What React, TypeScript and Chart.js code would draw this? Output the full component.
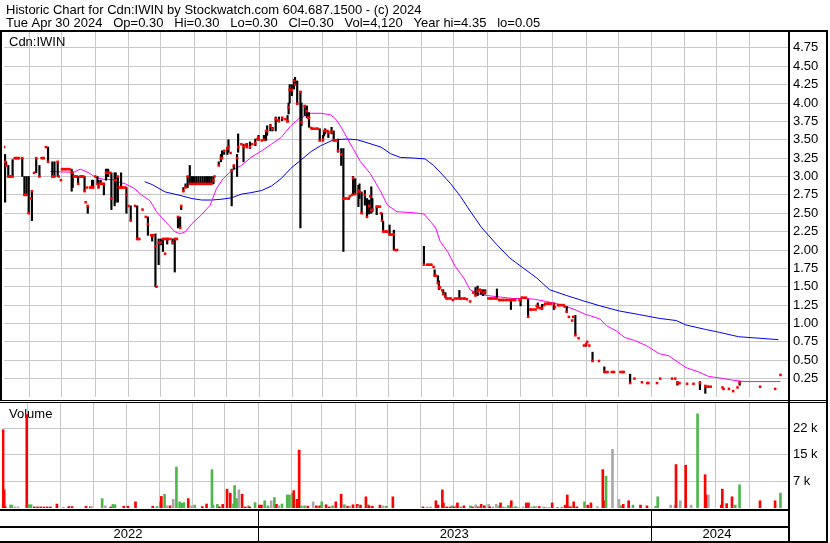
import React, { useEffect, useRef } from 'react';
import { Chart, registerables } from 'chart.js';

Chart.register(...registerables);

const FONT = '"Liberation Sans", Arial, sans-serif';

// ---- texts ----
const headerLine1 = 'Historic Chart for Cdn:IWIN by Stockwatch.com 604.687.1500 - (c) 2024';
const headerLine2 = 'Tue Apr 30 2024   Op=0.30   Hi=0.30   Lo=0.30   Cl=0.30   Vol=4,120   Year hi=4.35   lo=0.05';
const symbolLabel = 'Cdn:IWIN';
const volumeLabel = 'Volume';

// ---- axis data (x = calendar days counted from 2022-01-01) ----
const xMin = 127;
const xMax = 857;
const monthStarts = [151, 181, 212, 243, 273, 304, 334, 365, 396, 424, 455, 485, 516, 546, 577, 608, 638, 669, 699, 730, 761, 790, 821];
const yearStarts = [365, 730];
const yearLabels = ['2022', '2023', '2024'];
const yearLabelPos = [244, 547, 791];
const priceTicks = [0.25, 0.5, 0.75, 1, 1.25, 1.5, 1.75, 2, 2.25, 2.5, 2.75, 3, 3.25, 3.5, 3.75, 4, 4.25, 4.5, 4.75];
const volumeTicks = [7333.33, 14666.67, 22000];

// ---- daily closes ----
const closeDays = [
  127, 128, 129, 131, 132, 133, 134, 135, 137, 138, 139, 140, 141, 144, 146, 147, 148, 150, 152, 153,
  155, 157, 160, 162, 163, 164, 166, 168, 172, 173, 174, 177, 178, 180, 181, 182, 184, 185, 187, 188,
  190, 191, 192, 193, 194, 195, 196, 198, 199, 200, 201, 202, 203, 204, 205, 207, 208, 209, 210, 212,
  214, 215, 217, 218, 219, 220, 222, 223, 224, 226, 227, 230, 231, 233, 234, 235, 236, 237, 238, 240,
  241, 243, 245, 249, 251, 252, 253, 256, 259, 261, 264, 265, 266, 268, 269, 271, 273, 275, 276, 277,
  278, 279, 280, 282, 284, 286, 287, 288, 289, 291, 292, 294, 296, 298, 300, 302, 304, 306, 308, 310,
  312, 314, 316, 318, 320, 322, 323, 327, 329, 330, 332, 335, 336, 338, 339, 341, 344, 345, 348, 350,
  352, 353, 356, 358, 361, 363, 364, 367, 369, 371, 372, 375, 377, 380, 382, 383, 386, 389, 391, 392,
  393, 395, 397, 398, 400, 403, 404, 407, 409, 410, 411, 413, 414, 416, 418, 419, 421, 424, 425, 426,
  428, 429, 432, 434, 435, 437, 438, 441, 443, 444, 445, 447, 448, 449, 451, 452, 454, 457, 458, 460,
  463, 465, 467, 468, 469, 470, 474, 475, 477, 478, 479, 480, 482, 483, 484, 486, 487, 489, 490, 491,
  493, 518, 521, 522, 524, 525, 527, 528, 529, 531, 532, 533, 535, 536, 538, 539, 540, 542, 543, 545,
  547, 549, 551, 552, 553, 555, 556, 558, 561, 564, 566, 568, 570, 571, 573, 575, 578, 580, 581, 583,
  585, 586, 588, 589, 591, 592, 594, 595, 597, 599, 600, 602, 603, 607, 608, 609, 610, 612, 613, 615,
  617, 618, 620, 622, 623, 624, 626, 627, 628, 630, 631, 633, 634, 636, 639, 640, 643, 644, 646, 648,
  649, 651, 653, 656, 657, 659, 662, 667, 669, 670, 672, 675, 681, 686, 687, 689, 693, 695, 701, 703,
  704, 710, 714, 721, 726, 727, 735, 738, 749, 752, 754, 755, 756, 763, 769, 775, 780, 782, 783, 785,
  796, 797, 802, 806, 810, 812, 831, 845, 850,
];
const closes = [
  3.40, 3.20, 3.15, 3.00, 3.00, 3.00, 3.00, 3.00, 3.25, 3.25, 3.25, 3.25, 3.25, 3.25, 2.75, 2.75, 2.75, 2.50, 2.70, 2.80,
  3.05, 3.25, 3.00, 3.25, 3.25, 3.25, 3.40, 3.20, 3.00, 3.00, 3.00, 3.20, 3.00, 2.95, 3.10, 3.10, 3.10, 3.10, 3.10, 3.10,
  3.05, 3.05, 3.00, 3.00, 3.00, 3.00, 2.90, 3.00, 3.00, 3.00, 3.00, 2.80, 2.65, 2.85, 2.60, 2.85, 2.85, 2.85, 2.85, 3.00,
  2.90, 2.85, 2.90, 2.90, 2.90, 2.90, 3.05, 3.05, 3.05, 3.05, 2.70, 2.95, 2.95, 3.00, 2.85, 2.85, 2.85, 2.85, 2.85, 2.85,
  2.75, 2.60, 2.40, 2.60, 2.15, 2.15, 2.15, 2.55, 2.45, 2.35, 2.20, 2.20, 2.20, 2.05, 1.50, 2.10, 2.10, 2.15, 2.15, 1.95,
  2.15, 2.15, 2.15, 2.15, 2.10, 2.15, 2.15, 2.15, 2.45, 2.30, 2.60, 2.80, 2.85, 3.00, 2.90, 2.90, 2.90, 2.90, 2.90, 2.90,
  2.90, 2.90, 2.90, 2.90, 2.90, 2.95, 3.00, 3.15, 3.25, 3.25, 3.35, 3.38, 3.40, 3.32, 3.08, 3.15, 3.25, 3.40, 3.44, 3.40,
  3.43, 3.40, 3.40, 3.44, 3.45, 3.51, 3.53, 3.49, 3.50, 3.62, 3.62, 3.69, 3.65, 3.78, 3.76, 3.76, 3.80, 3.78, 3.75, 3.94,
  4.18, 4.18, 4.30, 4.25, 3.99, 4.15, 3.74, 3.96, 3.89, 3.80, 3.80, 3.66, 3.65, 3.65, 3.65, 3.65, 3.49, 3.50, 3.62, 3.62,
  3.62, 3.60, 3.61, 3.49, 3.49, 3.49, 3.35, 3.30, 2.70, 2.70, 2.70, 2.70, 2.70, 2.73, 2.75, 2.98, 2.76, 2.81, 2.79, 2.50,
  2.75, 2.45, 2.60, 2.73, 2.54, 2.55, 2.59, 2.59, 2.59, 2.50, 2.40, 2.25, 2.25, 2.25, 2.25, 2.21, 2.21, 2.21, 2.21, 2.00,
  2.00, 1.80, 1.80, 1.80, 1.80, 1.80, 1.77, 1.65, 1.65, 1.55, 1.49, 1.49, 1.45, 1.40, 1.37, 1.34, 1.34, 1.34, 1.34, 1.32,
  1.34, 1.34, 1.34, 1.34, 1.34, 1.34, 1.34, 1.33, 1.30, 1.42, 1.38, 1.44, 1.46, 1.44, 1.42, 1.43, 1.34, 1.34, 1.34, 1.34,
  1.34, 1.34, 1.32, 1.32, 1.32, 1.32, 1.32, 1.32, 1.32, 1.32, 1.32, 1.32, 1.32, 1.32, 1.32, 1.35, 1.35, 1.35, 1.35, 1.09,
  1.19, 1.19, 1.19, 1.19, 1.24, 1.22, 1.21, 1.21, 1.21, 1.25, 1.27, 1.27, 1.27, 1.27, 1.27, 1.22, 1.25, 1.25, 1.25, 1.25,
  1.23, 1.16, 1.09, 1.04, 1.09, 0.84, 0.80, 0.70, 0.72, 0.75, 0.70, 0.49, 0.49, 0.34, 0.34, 0.34, 0.34, 0.34, 0.34, 0.34,
  0.34, 0.19, 0.25, 0.20, 0.19, 0.19, 0.19, 0.25, 0.25, 0.25, 0.19, 0.19, 0.19, 0.18, 0.18, 0.19, 0.15, 0.14, 0.14, 0.14,
  0.13, 0.11, 0.11, 0.08, 0.13, 0.19, 0.14, 0.11, 0.30,
];

// ---- daily high-low ranges ----
const rangeDays = [
  128, 129, 131, 135, 144, 146, 148, 150, 153, 157, 160, 168, 172, 174, 177, 190, 191, 196, 202, 205,
  209, 210, 214, 215, 217, 220, 222, 223, 224, 227, 230, 231, 233, 236, 241, 245, 251, 261, 265, 268,
  271, 273, 275, 279, 284, 286, 289, 291, 292, 294, 296, 298, 300, 302, 304, 306, 308, 310, 312, 314,
  316, 318, 320, 322, 327, 329, 330, 332, 335, 336, 339, 341, 344, 345, 350, 353, 356, 361, 364, 369,
  371, 372, 375, 377, 380, 383, 386, 391, 392, 393, 395, 397, 398, 400, 403, 404, 407, 409, 411, 421,
  424, 425, 426, 429, 432, 434, 438, 441, 443, 452, 454, 457, 458, 460, 463, 465, 467, 469, 470, 474,
  479, 480, 486, 490, 518, 528, 531, 532, 536, 538, 551, 566, 568, 571, 573, 575, 586, 599, 608, 615,
  624, 628, 639, 651, 659, 669, 675, 686, 710, 754, 775, 780, 812,
];
const highs = [
  3.30, 3.20, 3.15, 3.23, 3.25, 3.00, 3.00, 3.00, 2.80, 3.25, 3.15, 3.40, 3.20, 3.20, 3.20, 3.10, 3.05, 3.00, 3.00, 2.60,
  2.95, 2.95, 3.00, 2.95, 2.95, 2.90, 3.10, 3.10, 3.10, 3.05, 3.05, 3.05, 3.00, 3.05, 2.85, 2.60, 2.60, 2.45, 2.20, 2.22,
  2.15, 2.15, 2.15, 2.15, 2.15, 2.15, 2.45, 2.45, 2.60, 2.85, 2.90, 3.00, 3.15, 3.00, 3.00, 3.00, 3.00, 3.00, 3.00, 3.00,
  3.00, 3.00, 3.00, 3.00, 3.20, 3.30, 3.35, 3.35, 3.40, 3.50, 3.10, 3.15, 3.30, 3.58, 3.44, 3.45, 3.47, 3.51, 3.56, 3.56,
  3.62, 3.69, 3.71, 3.67, 3.81, 3.81, 3.80, 3.83, 4.00, 4.25, 4.25, 4.32, 4.35, 4.30, 4.16, 4.00, 3.96, 3.96, 3.87, 3.65,
  3.56, 3.62, 3.65, 3.62, 3.67, 3.62, 3.51, 3.38, 3.38, 3.00, 2.97, 2.88, 2.90, 2.79, 2.81, 2.70, 2.68, 2.86, 2.70, 2.59,
  2.50, 2.39, 2.34, 2.27, 2.05, 1.73, 1.65, 1.58, 1.46, 1.42, 1.45, 1.49, 1.51, 1.46, 1.46, 1.46, 1.47, 1.32, 1.32, 1.33,
  1.28, 1.26, 1.27, 1.23, 1.11, 0.72, 0.61, 0.41, 0.31, 0.21, 0.21, 0.16, 0.21,
];
const lows = [
  2.65, 3.15, 3.00, 3.00, 3.00, 2.75, 2.75, 2.50, 2.40, 3.05, 3.00, 3.20, 3.00, 3.00, 3.00, 2.80, 2.85, 2.90, 2.80, 2.50,
  2.85, 2.85, 2.90, 2.85, 2.90, 2.75, 2.95, 3.00, 3.00, 2.55, 2.60, 2.65, 2.65, 2.85, 2.50, 2.40, 2.15, 2.20, 2.12, 1.50,
  1.80, 2.07, 1.98, 2.08, 2.08, 1.70, 2.30, 2.30, 2.55, 2.80, 2.85, 2.85, 2.90, 2.90, 2.90, 2.90, 2.90, 2.90, 2.90, 2.90,
  2.90, 2.90, 2.90, 2.90, 3.15, 3.20, 3.25, 3.30, 3.30, 3.33, 2.60, 3.10, 3.00, 3.33, 3.20, 3.40, 3.38, 3.42, 3.49, 3.49,
  3.49, 3.56, 3.62, 3.62, 3.62, 3.74, 3.76, 3.74, 3.85, 4.00, 4.10, 4.19, 4.25, 3.98, 2.30, 3.69, 3.83, 3.80, 3.67, 3.49,
  3.48, 3.55, 3.58, 3.53, 3.58, 3.49, 3.33, 3.15, 1.98, 2.75, 2.76, 2.59, 2.70, 2.50, 2.61, 2.44, 2.49, 2.50, 2.52, 2.48,
  2.39, 2.25, 2.21, 2.00, 1.80, 1.65, 1.54, 1.46, 1.40, 1.35, 1.34, 1.38, 1.38, 1.40, 1.38, 1.40, 1.34, 1.19, 1.24, 1.09,
  1.21, 1.19, 1.19, 1.15, 0.84, 0.69, 0.49, 0.34, 0.19, 0.16, 0.10, 0.05, 0.16,
];

// ---- moving averages ----
const maShortDays = [
  170, 183, 192, 198, 206, 212, 220, 228, 232, 240, 248, 255, 263, 269, 277, 286, 291, 296, 302, 311,
  319, 325, 331, 339, 348, 357, 367, 376, 385, 394, 401, 404, 410, 413, 422, 431, 436, 441, 447, 452,
  459, 468, 478, 484, 493, 506, 518, 524, 529, 533, 540, 547, 555, 561, 569, 577, 589, 601, 614, 621,
  632, 644, 651, 660, 669, 672, 682, 688, 697, 705, 714, 725, 737, 746, 754, 762, 774, 783, 793, 805,
  817, 830, 850,
];
const maShort = [
  3.07, 3.06, 3.06, 3.10, 3.05, 2.99, 2.96, 2.96, 2.93, 2.90, 2.84, 2.75, 2.67, 2.52, 2.39, 2.25, 2.22, 2.25, 2.36, 2.48,
  2.61, 2.84, 2.97, 3.08, 3.15, 3.26, 3.35, 3.44, 3.53, 3.69, 3.78, 3.80, 3.85, 3.86, 3.86, 3.84, 3.78, 3.67, 3.51, 3.38,
  3.20, 3.04, 2.79, 2.61, 2.52, 2.51, 2.49, 2.39, 2.30, 2.12, 1.98, 1.78, 1.62, 1.46, 1.40, 1.38, 1.36, 1.34, 1.34, 1.33,
  1.30, 1.26, 1.23, 1.18, 1.12, 1.11, 1.06, 0.97, 0.90, 0.81, 0.77, 0.70, 0.59, 0.56, 0.48, 0.40, 0.34, 0.28, 0.26, 0.23,
  0.21, 0.21, 0.21,
];
const maLongDays = [
  258, 265, 277, 289, 302, 311, 320, 329, 339, 348, 357, 367, 376, 385, 394, 404, 413, 422, 434, 447,
  456, 465, 478, 487, 496, 509, 519, 527, 533, 543, 552, 561, 572, 586, 598, 610, 623, 635, 651, 666,
  682, 700, 719, 737, 753, 762, 780, 793, 811, 830, 848,
];
const maLong = [
  2.93, 2.89, 2.79, 2.75, 2.70, 2.68, 2.68, 2.69, 2.71, 2.76, 2.78, 2.81, 2.87, 2.97, 3.11, 3.23, 3.34, 3.42, 3.50, 3.51,
  3.50, 3.46, 3.40, 3.31, 3.26, 3.25, 3.24, 3.15, 3.06, 2.90, 2.73, 2.53, 2.30, 2.07, 1.89, 1.76, 1.62, 1.46, 1.38, 1.31,
  1.24, 1.17, 1.12, 1.07, 1.04, 0.98, 0.92, 0.88, 0.82, 0.80, 0.78,
];

// ---- volume (direction: 1 up, -1 down, 0 unchanged) ----
const volDays = [
  128, 129, 130, 135, 136, 139, 142, 150, 152, 154, 157, 160, 163, 166, 169, 172, 178, 184, 189, 192,
  205, 209, 210, 220, 223, 228, 230, 232, 240, 244, 251, 267, 271, 274, 275, 278, 280, 283, 286, 289,
  292, 294, 296, 300, 303, 306, 313, 317, 322, 323, 327, 329, 332, 336, 339, 342, 343, 345, 347, 350,
  353, 356, 357, 362, 366, 368, 371, 374, 377, 380, 382, 384, 387, 392, 394, 397, 398, 401, 403, 405,
  408, 411, 416, 419, 422, 424, 428, 431, 434, 437, 442, 445, 448, 450, 453, 457, 458, 460, 465, 467,
  468, 471, 478, 481, 484, 490, 518, 522, 525, 530, 532, 536, 537, 540, 543, 545, 547, 549, 550, 553,
  556, 562, 564, 567, 569, 570, 572, 574, 575, 579, 580, 583, 586, 588, 590, 592, 594, 597, 598, 600,
  601, 604, 607, 611, 614, 616, 618, 621, 623, 626, 630, 632, 635, 638, 643, 647, 650, 652, 654, 655,
  658, 661, 668, 671, 674, 680, 685, 686, 688, 694, 700, 702, 704, 709, 713, 720, 726, 734, 736, 748,
  752, 753, 757, 762, 767, 773, 780, 781, 783, 795, 796, 800, 805, 808, 812, 831, 845, 850,
];
const volumes = [
  21600, 5000, 400, 800, 800, 300, 300, 25800, 900, 900, 300, 300, 300, 300, 300, 300, 1100, 200, 400, 400,
  500, 300, 400, 2600, 600, 300, 1000, 900, 500, 500, 1700, 500, 400, 1700, 3200, 3800, 600, 600, 2400, 11300,
  1700, 1300, 1500, 2600, 600, 800, 400, 1100, 10600, 800, 1000, 300, 1000, 5200, 4100, 1100, 6200, 2600, 5000, 3800,
  300, 600, 300, 1500, 800, 800, 2000, 600, 2000, 2900, 1000, 600, 1100, 3600, 3600, 4100, 4800, 2400, 16000, 600,
  600, 500, 1700, 600, 600, 1700, 900, 300, 600, 1700, 3800, 900, 500, 500, 900, 1000, 500, 800, 3100, 900,
  600, 500, 800, 600, 500, 3100, 300, 300, 300, 2000, 800, 5000, 1400, 300, 300, 600, 300, 600, 1400, 300,
  600, 600, 300, 900, 300, 300, 1000, 600, 600, 1000, 300, 300, 1000, 600, 1400, 300, 200, 600, 600, 2000,
  300, 400, 200, 300, 1400, 1400, 300, 400, 400, 400, 300, 100, 100, 1400, 100, 200, 800, 3600, 300, 300,
  1700, 300, 1700, 800, 1400, 400, 10600, 2000, 8800, 16200, 2400, 600, 1000, 2000, 800, 800, 600, 400, 3100, 800,
  800, 12000, 2000, 11800, 800, 26000, 9200, 3600, 3600, 800, 5200, 1200, 3100, 800, 6400, 2000, 2000, 4120,
];
const volDir = [
  -1, -1, -1, 1, 1, 0, 0, -1, 1, 1, -1, -1, -1, -1, -1, -1, -1, 0, -1, -1,
  -1, -1, 0, 1, 0, -1, 1, 1, -1, -1, -1, -1, 1, 1, -1, 1, 0, -1, 0, 1,
  1, 1, 1, -1, 0, 1, -1, -1, 1, 1, 1, -1, -1, -1, -1, 1, 1, 1, 0, -1,
  -1, 1, -1, 1, -1, -1, 1, 1, 0, 1, -1, 0, 1, 1, 1, 1, -1, -1, -1, 1,
  1, -1, 0, -1, -1, 1, -1, -1, 1, -1, -1, 1, -1, 0, -1, -1, 0, -1, -1, 1,
  -1, -1, -1, 0, 1, -1, -1, 0, 0, -1, -1, -1, -1, -1, -1, 1, -1, 1, -1, 1,
  -1, 1, -1, 0, -1, 1, -1, 0, -1, 0, -1, 0, 0, 0, -1, 1, 0, 1, 1, -1,
  1, 1, 0, 0, -1, -1, 0, 1, 0, -1, 0, 1, 1, -1, -1, 1, -1, -1, -1, -1,
  -1, -1, 1, -1, -1, 0, -1, -1, 1, 0, 0, 1, -1, -1, 1, -1, -1, 1, 1, 0,
  0, -1, 0, -1, 0, 1, -1, -1, 0, -1, -1, -1, -1, 1, 1, -1, -1, 1,
];

const GRID = '#c8c8c8';
const UP = '#4cb84c';
const DOWN = '#ff0000';
const FLAT = '#a8a8a8';

const framePriceP = {
  id: 'framePrice',
  beforeDatasetsDraw(chart: any) {
    const ctx = chart.ctx;
    ctx.save();
    ctx.fillStyle = '#000';
    ctx.font = '13px ' + FONT;
    ctx.textBaseline = 'alphabetic';
    ctx.fillText(symbolLabel, 9, 46);
    ctx.restore();
  },
  afterDraw(chart: any) {
    const ctx = chart.ctx;
    ctx.save();
    ctx.fillStyle = '#000';
    ctx.fillRect(0, 30, 828, 2);
    ctx.fillRect(0, 30, 2, 371);
    ctx.fillRect(788, 30, 2, 371);
    ctx.fillRect(826, 30, 2, 371);
    ctx.fillRect(0, 400, 828, 1);
    ctx.font = '13px ' + FONT;
    ctx.textBaseline = 'alphabetic';
    ctx.fillText(headerLine1, 6, 14);
    ctx.fillText(headerLine2, 6, 27);
    ctx.restore();
  },
};

const frameVolP = {
  id: 'frameVol',
  beforeDatasetsDraw(chart: any) {
    const ctx = chart.ctx;
    ctx.save();
    ctx.fillStyle = '#000';
    ctx.font = '13px ' + FONT;
    ctx.textBaseline = 'alphabetic';
    ctx.fillText(volumeLabel, 9, 17);
    ctx.restore();
  },
  afterDraw(chart: any) {
    const ctx = chart.ctx;
    const xs = chart.scales.x;
    ctx.save();
    ctx.fillStyle = '#000';
    ctx.fillRect(0, 1, 828, 1);
    ctx.fillRect(0, 108, 790, 2);
    ctx.fillRect(0, 125, 790, 2);
    ctx.fillRect(0, 140, 828, 2);
    ctx.fillRect(788, 0, 2, 142);
    ctx.fillRect(826, 0, 2, 142);
    yearStarts.forEach((d) => {
      const px = Math.floor(xs.getPixelForValue(d));
      ctx.fillRect(px, 108, 1, 33);
    });
    ctx.restore();
  },
};

const noPadV = (s: any, w: number) => {
  s.width = w;
  s.paddingTop = 0;
  s.paddingBottom = 0;
};
const noPadH = (s: any, h: number) => {
  s.height = h;
  s.paddingLeft = 0;
  s.paddingRight = 0;
};

const monthAxis = () => ({
  type: 'linear' as const,
  min: xMin,
  max: xMax,
  offset: false,
  afterBuildTicks: (s: any) => {
    s.ticks = monthStarts.map((v) => ({ value: v }));
  },
  afterFit: (s: any) => noPadH(s, 0),
  ticks: { display: false },
  grid: { color: GRID, lineWidth: 1, drawTicks: false, offset: false },
  border: { display: false },
});

export default function App() {
  const priceRef = useRef<HTMLCanvasElement>(null);
  const volRef = useRef<HTMLCanvasElement>(null);

  useEffect(() => {
    Chart.defaults.font.family = FONT;
    Chart.defaults.color = '#000';

    const priceChart = new Chart(priceRef.current as HTMLCanvasElement, {
      type: 'bar',
      data: {
        datasets: [
          {
            type: 'line',
            data: maLongDays.map((d, i) => ({ x: d, y: maLong[i] })),
            borderColor: '#0000ff',
            borderWidth: 1,
            pointRadius: 0,
            order: 4,
          } as any,
          {
            type: 'line',
            data: maShortDays.map((d, i) => ({ x: d, y: maShort[i] })),
            borderColor: '#ff00ff',
            borderWidth: 1,
            pointRadius: 0,
            order: 3,
          } as any,
          {
            type: 'bar',
            data: rangeDays.map((d, i) => ({ x: d, y: [lows[i], highs[i]] })),
            backgroundColor: '#000',
            borderWidth: 0,
            barThickness: 1.5,
            order: 2,
          } as any,
          {
            type: 'line',
            data: closeDays.map((d, i) => ({ x: d, y: closes[i] })),
            showLine: false,
            pointStyle: 'rect',
            pointRadius: 1.8,
            pointBorderWidth: 0,
            pointBackgroundColor: '#ff0000',
            order: 1,
          } as any,
        ],
      },
      options: {
        responsive: false,
        animation: false,
        events: [],
        layout: { padding: { left: 2, top: 32, right: 0, bottom: 1 } },
        plugins: { legend: { display: false }, tooltip: { enabled: false }, title: { display: false } },
        scales: {
          x: monthAxis(),
          y: {
            type: 'linear',
            position: 'right',
            min: 0,
            max: 4.966,
            afterBuildTicks: (s: any) => {
              s.ticks = priceTicks.map((v) => ({ value: v }));
            },
            afterFit: (s: any) => noPadV(s, 42),
            ticks: {
              autoSkip: false,
              padding: 5,
              color: '#000',
              font: { family: FONT, size: 13 },
              callback: (v: any) => Number(v).toFixed(2),
            },
            grid: { color: GRID, lineWidth: 1, drawTicks: false },
            border: { display: false },
          },
        },
      } as any,
      plugins: [framePriceP],
    });

    const volChart = new Chart(volRef.current as HTMLCanvasElement, {
      type: 'bar',
      data: {
        datasets: [
          {
            data: volDays.map((d, i) => ({ x: d, y: volumes[i] })),
            backgroundColor: volDir.map((v) => (v > 0 ? UP : v < 0 ? DOWN : FLAT)),
            borderWidth: 0,
            barThickness: 2,
          } as any,
        ],
      },
      options: {
        responsive: false,
        animation: false,
        events: [],
        layout: { padding: { left: 2, top: 1, right: 0, bottom: 0 } },
        plugins: { legend: { display: false }, tooltip: { enabled: false } },
        scales: {
          x: { ...monthAxis(), weight: 0 },
          xYear: {
            type: 'linear',
            position: 'bottom',
            weight: 1,
            min: xMin,
            max: xMax,
            offset: false,
            afterBuildTicks: (s: any) => {
              s.ticks = yearLabelPos.map((v) => ({ value: v }));
            },
            afterFit: (s: any) => noPadH(s, 35),
            ticks: {
              autoSkip: false,
              maxRotation: 0,
              padding: 19,
              color: '#000',
              font: { family: FONT, size: 13 },
              callback: (_v: any, i: number) => yearLabels[i],
            },
            grid: { display: false, drawTicks: false },
            border: { display: false },
          },
          y: {
            type: 'linear',
            position: 'right',
            min: 0,
            max: 29260,
            afterBuildTicks: (s: any) => {
              s.ticks = volumeTicks.map((v) => ({ value: v }));
            },
            afterFit: (s: any) => noPadV(s, 42),
            ticks: {
              autoSkip: false,
              padding: 5,
              color: '#000',
              font: { family: FONT, size: 13 },
              callback: (v: any) => Math.round(Number(v) / 1000) + ' k',
            },
            grid: { color: GRID, lineWidth: 1, drawTicks: false },
            border: { display: false },
          },
        },
      } as any,
      plugins: [frameVolP],
    });

    return () => {
      priceChart.destroy();
      volChart.destroy();
    };
  }, []);

  return (
    <div style={{ position: 'absolute', left: 0, top: 0, width: 830, height: 543, background: '#fff' }}>
      <canvas ref={priceRef} width={830} height={401} style={{ position: 'absolute', left: 0, top: 0, display: 'block' }} />
      <canvas ref={volRef} width={830} height={142} style={{ position: 'absolute', left: 0, top: 401, display: 'block' }} />
    </div>
  );
}
